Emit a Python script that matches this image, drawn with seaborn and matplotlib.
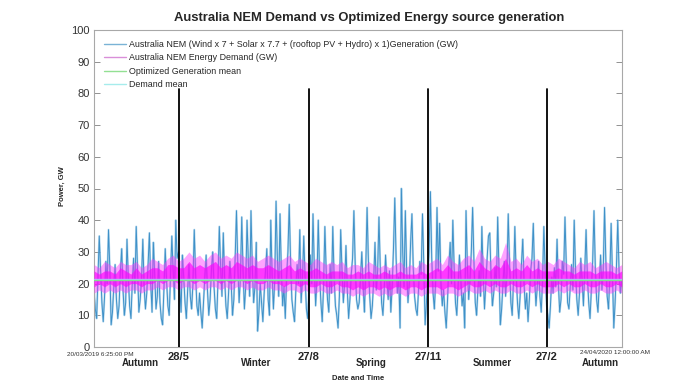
import numpy as np
import pandas as pd
import matplotlib
matplotlib.use("Agg")
import matplotlib.pyplot as plt
from matplotlib.lines import Line2D
import seaborn as sns

# ---------------- data ----------------
# Optimized generation, one value per day from 20/03/2019 (GW)
generation = [
    18, 12, 9, 22, 35, 24, 14, 8, 16, 27, 20, 37, 25, 7, 11, 19, 26, 15, 9, 13,
    24, 31, 18, 10, 14, 34, 22, 13, 9, 20, 28, 17, 38, 24, 11, 15, 21, 34, 19, 12,
    17, 26, 36, 20, 11, 33, 23, 12, 16, 27, 14, 9, 7, 18, 31, 21, 13, 10, 22, 35,
    24, 15, 40, 28, 30, 19, 11, 29, 22, 14, 9, 18, 26, 16, 12, 20, 37, 23, 13, 10,
    17, 11, 6, 14, 22, 29, 18, 10, 15, 24, 30, 19, 12, 9, 21, 38, 25, 16, 36, 22,
    13, 9, 17, 27, 20, 10, 15, 28, 43, 26, 14, 22, 41, 24, 12, 19, 40, 27, 16, 43,
    25, 14, 19, 33, 5, 11, 20, 14, 8, 17, 24, 31, 15, 10, 40, 23, 12, 21, 46, 28,
    16, 42, 24, 13, 19, 9, 22, 30, 45, 27, 15, 11, 8, 18, 26, 20, 37, 14, 21, 35,
    22, 12, 9, 18, 29, 20, 42, 25, 13, 21, 40, 23, 14, 8, 19, 38, 24, 15, 11, 26,
    17, 38, 22, 13, 10, 6, 16, 37, 24, 14, 20, 32, 18, 9, 15, 23, 28, 43, 26, 15,
    12, 14, 22, 30, 19, 11, 25, 44, 27, 16, 9, 13, 21, 33, 18, 24, 41, 25, 14, 10,
    18, 29, 21, 15, 24, 11, 19, 31, 47, 28, 17, 22, 6, 50, 30, 19, 43, 24, 14, 20,
    33, 42, 25, 16, 12, 10, 18, 27, 23, 42, 26, 7, 14, 22, 30, 49, 28, 17, 12, 21,
    44, 24, 39, 20, 13, 18, 11, 6, 15, 26, 33, 20, 40, 25, 14, 10, 19, 29, 22, 13,
    17, 6, 43, 26, 15, 21, 30, 44, 27, 14, 10, 18, 24, 16, 38, 23, 12, 20, 28, 35,
    36, 22, 13, 17, 25, 19, 41, 24, 7, 12, 20, 27, 16, 23, 42, 26, 14, 10, 21, 38,
    23, 14, 9, 16, 26, 34, 20, 12, 17, 8, 15, 24, 28, 39, 22, 13, 19, 27, 16, 11,
    21, 38, 24, 14, 10, 6, 13, 22, 17, 25, 19, 34, 20, 11, 15, 27, 23, 41, 26, 14,
    12, 19, 26, 18, 40, 24, 15, 10, 17, 28, 21, 13, 24, 37, 22, 14, 9, 18, 27, 43,
    25, 15, 11, 20, 29, 18, 24, 44, 27, 16, 12, 22, 39, 23, 6, 14, 25, 40, 24, 17, 21,
]

# Energy demand outer envelope, every 4 days (GW)
demand_high = [
    26, 25, 27, 26, 25, 27, 26, 26, 27, 25, 26, 28, 27, 26, 28, 29, 27, 28, 30, 28, 29, 27, 29, 30, 28,
    29, 28, 30, 29, 28, 29, 27, 28, 29, 28, 27, 28, 29, 27, 28, 27, 26, 28, 27, 26, 27, 26, 27, 25, 26,
    26, 25, 27, 26, 25, 26, 25, 26, 27, 25, 26, 25, 27, 26, 27, 28, 26, 29, 27, 26, 28, 29, 27, 31, 28,
    27, 29, 28, 33, 27, 28, 26, 29, 27, 28, 26, 27, 26, 28, 27, 26, 25, 27, 26, 27, 25, 26, 27, 26, 25,
    26,
]
demand_low = [
    17, 18, 17, 18, 17, 18, 17, 18, 18, 17, 18, 18, 19, 18, 19, 19, 18, 19, 19, 18, 19, 18, 19, 19, 18,
    19, 18, 19, 19, 18, 19, 18, 18, 19, 18, 18, 17, 18, 18, 17, 18, 17, 17, 18, 17, 17, 18, 17, 17, 16,
    17, 16, 17, 17, 16, 17, 16, 17, 17, 16, 17, 17, 16, 17, 17, 17, 16, 17, 17, 16, 17, 18, 17, 17, 18,
    17, 18, 17, 17, 18, 17, 17, 18, 17, 18, 17, 17, 17, 18, 17, 18, 17, 17, 18, 17, 17, 18, 17, 17, 18,
    17,
]
# Dense core of the demand band, every 4 days (GW)
demand_core_high = [
    24, 23, 24, 24, 23, 25, 24, 23, 25, 23, 24, 25, 25, 24, 26, 26, 25, 25, 27, 25, 26, 25, 26, 27, 25,
    26, 25, 27, 26, 25, 26, 25, 25, 26, 25, 24, 25, 26, 24, 25, 24, 24, 25, 24, 23, 24, 24, 24, 23, 23,
    24, 23, 24, 23, 23, 24, 23, 23, 24, 23, 23, 23, 24, 23, 24, 25, 24, 26, 24, 24, 25, 26, 24, 27, 25,
    24, 26, 25, 28, 24, 25, 24, 26, 24, 25, 24, 24, 24, 25, 24, 24, 23, 24, 24, 24, 23, 24, 24, 24, 23,
    24,
]
demand_core_low = [
    19, 20, 19, 20, 19, 20, 19, 20, 20, 19, 20, 20, 21, 20, 21, 21, 20, 21, 21, 20, 21, 20, 21, 21, 20,
    21, 20, 21, 21, 20, 21, 20, 20, 21, 20, 20, 19, 20, 20, 19, 20, 19, 19, 20, 19, 19, 20, 19, 19, 18,
    19, 18, 19, 19, 18, 19, 18, 19, 19, 18, 19, 19, 18, 19, 19, 19, 18, 19, 19, 18, 19, 20, 19, 19, 20,
    19, 20, 19, 19, 20, 19, 19, 20, 19, 20, 19, 19, 19, 20, 19, 20, 19, 19, 20, 19, 19, 20, 19, 19, 20,
    19,
]

generation_mean = 21.1
demand_mean = 21.4

# Season boundaries (days after 20/03/2019 18:25)
boundary_days = [64.4, 163.0, 253.2, 343.4]
boundary_labels = ["28/5", "27/8", "27/11", "27/2"]
boundary_top = 81.5
season_labels = ["Autumn", "Winter", "Spring", "Summer", "Autumn"]
start_label = "20/03/2019 6:25:00 PM"
end_label = "24/04/2020 12:00:00 AM"
x_end = 400.23

legend_labels = [
    "Australia NEM (Wind x 7 + Solar x 7.7 + (rooftop PV + Hydro) x 1)Generation (GW)",
    "Australia NEM Energy Demand (GW)",
    "Optimized Generation mean",
    "Demand mean",
]

# ---------------- figure ----------------
sns.set_theme(style="white")
plt.rcParams["font.family"] = ["Liberation Sans", "DejaVu Sans"]

W, H = 694, 390
fig = plt.figure(figsize=(W / 100, H / 100), dpi=100)
ax = fig.add_axes([94 / W, 1 - 347 / H, (622 - 94) / W, (347 - 30) / H])

gen_df = pd.DataFrame({"day": np.arange(len(generation)), "gw": generation})
dem_days = np.arange(len(demand_high)) * 4

# light halo + darker core line for the dense generation trace
sns.lineplot(data=gen_df, x="day", y="gw", ax=ax, color="#9ccbe8",
             linewidth=1.5, alpha=0.7, zorder=2)
sns.lineplot(data=gen_df, x="day", y="gw", ax=ax, color="#3289c4",
             linewidth=0.7, alpha=0.9, zorder=2)
ax.fill_between(dem_days, demand_low, demand_high, color="#ff33ff",
                alpha=0.45, linewidth=0, zorder=3)
ax.fill_between(dem_days, demand_core_low, demand_core_high, color="#ff00ff",
                alpha=0.65, linewidth=0, zorder=3)
ax.axhline(generation_mean, color="#7ee07e", linewidth=1.0, zorder=4)
ax.axhline(demand_mean, color="#a8c8f0", linewidth=1.0, alpha=0.9, zorder=4)

for d in boundary_days:
    ax.plot([d, d], [0, boundary_top], color="black", linewidth=1.3, zorder=5)

ax.set_xlim(0, x_end)
ax.set_ylim(0, 100)
ax.set_yticks(np.arange(0, 101, 10))
ax.set_xticks([])
ax.set_xlabel("")
ax.set_ylabel("")
ax.tick_params(axis="y", direction="in", length=4, width=0.6, color="#808080",
               labelsize=8, labelcolor="#333333", pad=3, right=True, left=True)
for s in ax.spines.values():
    s.set_color("#a8a8a8")
    s.set_linewidth(0.8)

handles = [
    Line2D([], [], color="#7ab3d6", lw=1.0),
    Line2D([], [], color="#d98fd9", lw=1.0),
    Line2D([], [], color="#93e093", lw=1.0),
    Line2D([], [], color="#a6ecec", lw=1.0),
]
ax.legend(handles, legend_labels, loc="upper left", frameon=False,
          fontsize=6.4, handlelength=2.5, handletextpad=0.3,
          labelspacing=0.5, borderaxespad=0.0,
          bbox_to_anchor=(0.012, 0.98))

# ---------------- texts ----------------
def ft(px, py, s, **kw):
    fig.text(px / W, 1 - py / H, s, **kw)

ft(369, 18, "Australia NEM Demand vs Optimized Energy source generation",
   ha="center", va="center", fontsize=9.4, fontweight="bold")
ft(62, 186, "Power, GW", ha="center", va="center", rotation=90,
   fontsize=5.5, fontweight="bold")
ft(358, 378, "Date and Time", ha="center", va="center", fontsize=5.5,
   fontweight="bold")
ft(100, 354, start_label, ha="center", va="center", fontsize=4.6, color="#333333")
ft(615, 353, end_label, ha="center", va="center", fontsize=4.6, color="#333333")

for d, lab in zip(boundary_days, boundary_labels):
    px = 94 + d / x_end * (622 - 94)
    ft(px, 357, lab, ha="center", va="center", fontsize=8, fontweight="bold")

season_px = [140, 256, 371, 492, 600]
for px, lab in zip(season_px, season_labels):
    ft(px, 363, lab, ha="center", va="center", fontsize=7, fontweight="bold")

fig.savefig("out.png", dpi=100)
